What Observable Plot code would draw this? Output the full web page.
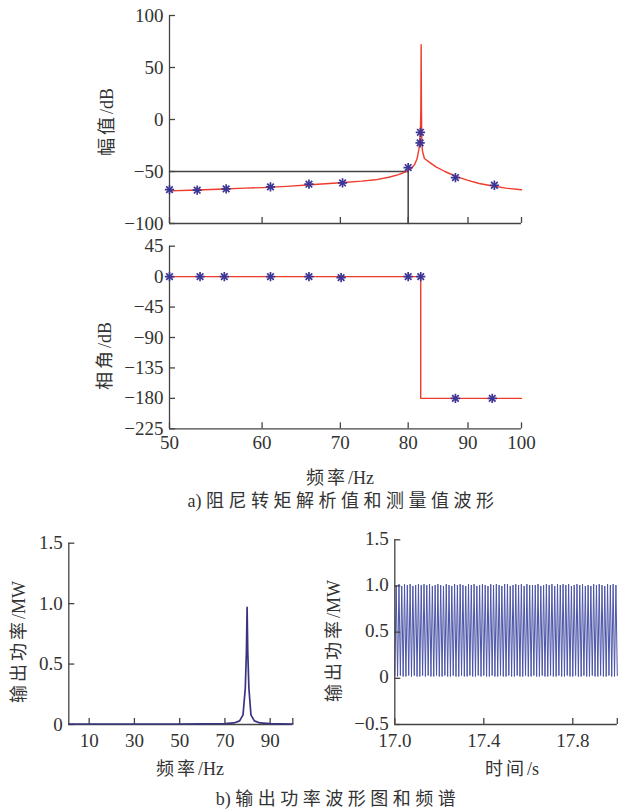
<!DOCTYPE html>
<html><head><meta charset="utf-8">
<script src="https://cdn.jsdelivr.net/npm/d3@7"></script>
<script src="https://cdn.jsdelivr.net/npm/@observablehq/plot@0.6"></script>
<style>
body{margin:0;background:#fff;}
#wrap{position:relative;width:618px;height:811px;overflow:hidden;font-family:"Liberation Serif","Times New Roman","Noto Sans CJK SC",serif;color:#333;}
.p{position:absolute;}
.lab{position:absolute;font-size:18px;white-space:nowrap;transform:translate(-50%,-50%);}
.rot{transform:translate(-50%,-50%) rotate(-90deg);}
.cjk{letter-spacing:3px;}
.cap .cjk{letter-spacing:4.5px;}
.lat{letter-spacing:0;}
</style></head><body><div id="wrap"></div>
<script>
// ---- data ----
const magTickVals = [100, 50, 0, -50, -100];
const phaseTickVals = [45, 0, -45, -90, -135, -180, -225];
const freqTickVals = [50, 60, 70, 80, 90, 100];
const specXTickVals = [10, 30, 50, 70, 90];
const specXTickMarks = [10, 30, 50, 70, 90, 100];
const specYTickVals = [0, 0.5, 1.0, 1.5];
const waveXTickVals = [17.0, 17.4, 17.8];
const waveXTickMarks = [17.0, 17.4, 17.8, 18.0];
const waveYTickVals = [-0.5, 0, 0.5, 1.0, 1.5];

// analytic damping torque magnitude (red curve)
const magCurveHz = [50, 52, 55, 58, 60, 63, 66, 70, 73, 75, 77, 78.5, 79.5, 80.5, 81.0, 81.4, 81.7, 81.85, 81.95, 82.02, 82.07, 82.12, 82.18, 82.3, 82.6, 83.5, 84.5, 86, 88, 90, 92, 94.5, 97, 100];
const magCurveDb = [-68.6, -68.0, -67.0, -66.0, -65.5, -64.3, -62.8, -60.8, -59.3, -58.0, -55.5, -53.0, -50.5, -47.0, -43.5, -38.0, -29.0, -21.0, -11.0, 10, 72, 10, -22, -31, -37.5, -41.5, -45.5, -50.0, -55.0, -58.5, -61.5, -64.0, -66.0, -67.5];
// measured magnitude (asterisks)
const magPointHz = [50, 52.8, 55.9, 61, 65.8, 70.3, 80, 81.9, 81.95, 87.8, 94.8];
const magPointDb = [-67.4, -68, -66.7, -64.8, -62.2, -61, -46.2, -22.5, -12.3, -55.8, -63.2];
// reference lines on magnitude plot
const refHz = [50, 80, 80];
const refDb = [-50, -50, -100];
// analytic phase (red step)
const phaseCurveHz = [50, 82, 82, 100];
const phaseCurveDeg = [0, 0, -180, -180];
// measured phase
const phasePointHz = [50, 53.1, 55.7, 61, 65.8, 70.1, 80, 82, 87.8, 94.4];
const phasePointDeg = [0, 0, 0, 0, 0, -1.5, 0, 0, -180, -180];
// output power spectrum
const specHz = [1, 10, 20, 30, 40, 50, 60, 65, 70, 74, 76.5, 78, 79, 79.5, 79.8, 80.1, 80.6, 81.5, 83, 85.5, 90, 95, 100];
const specMW = [0.004, 0.004, 0.004, 0.004, 0.004, 0.004, 0.005, 0.006, 0.008, 0.013, 0.03, 0.08, 0.3, 0.6, 0.97, 0.6, 0.3, 0.08, 0.03, 0.013, 0.007, 0.005, 0.004];
// output power waveform: successive extrema (half-period apart), 80 Hz oscillation
const waveStart = 17.0;
const waveHz = 80;
const waveExtrema = [
0.03,
1.01,0.02, 1.02,0.03, 1.00,0.02, 1.02,0.02, 1.01,0.03, 1.02,0.02, 1.00,0.03, 1.01,0.02, 1.02,0.02, 1.01,0.03,
1.02,0.02, 1.01,0.03, 1.02,0.02, 1.00,0.02, 1.01,0.03, 1.02,0.02, 1.01,0.02, 1.00,0.03, 1.02,0.02, 1.01,0.02,
1.00,0.03, 1.02,0.02, 1.01,0.02, 1.02,0.03, 1.01,0.02, 1.00,0.02, 1.02,0.03, 1.01,0.02, 1.02,0.02, 1.00,0.03,
1.01,0.02, 1.02,0.03, 1.01,0.02, 1.00,0.02, 1.02,0.03, 1.01,0.02, 1.02,0.02, 1.01,0.03, 1.00,0.02, 1.02,0.02,
1.02,0.03, 1.00,0.02, 1.01,0.02, 1.02,0.03, 1.01,0.02, 1.02,0.02, 1.00,0.03, 1.02,0.02, 1.01,0.02, 1.01,0.03,
1.01,0.02, 1.02,0.02, 1.00,0.03, 1.01,0.02, 1.02,0.02, 1.01,0.03, 1.02,0.02, 1.00,0.02, 1.02,0.03, 1.01,0.02,
1.02,0.02, 1.01,0.03, 1.02,0.02, 1.00,0.02, 1.01,0.03, 1.02,0.02, 1.01,0.02, 1.02,0.03, 1.00,0.02, 1.01,0.02,
1.00,0.03, 1.02,0.02, 1.01,0.02, 1.02,0.03, 1.01,0.02, 1.00,0.02, 1.02,0.03, 1.01,0.02, 1.02,0.02, 1.01,0.03
];

// ---- build ----
const AX = "#444", TXT = "#333", RED = "#ee3b2c", MK = "#3d3594", NAVY = "#3a3480", WAVE = "#4c55a8";
const wrap = document.getElementById("wrap");
const baseStyle = {fontFamily: '"Liberation Serif", "Times New Roman", serif', fontSize: "19px", color: TXT, background: "transparent", overflow: "visible"};
const fInt = d3.format("d");
const f1 = d => d === 0 ? "0" : d3.format(".1f")(d);

function place(svg, left, top) {
  const d = document.createElement("div");
  d.className = "p"; d.style.left = left + "px"; d.style.top = top + "px";
  d.appendChild(svg); wrap.appendChild(d);
}
// label with letter-spaced CJK parts and unspaced Latin parts
function label(parts, cx, cy, rotate, cls) {
  const d = document.createElement("div");
  d.className = "lab" + (rotate ? " rot" : "") + (cls ? " " + cls : "");
  for (const [txt, isCjk] of parts) {
    const s = document.createElement("span");
    s.className = isCjk ? "cjk" : "lat";
    s.textContent = txt; d.appendChild(s);
  }
  d.style.left = cx + "px"; d.style.top = cy + "px";
  wrap.appendChild(d);
}
function frameMarks(x0, y0, xMarks, yMarks, innerW, innerH) {
  return [
    Plot.ruleX([x0], {stroke: AX, strokeWidth: 1.3}),
    Plot.ruleY([y0], {stroke: AX, strokeWidth: 1.3}),
    Plot.tickX(xMarks, {x: d => d, stroke: AX, strokeWidth: 1.3, insetTop: innerH - 6}),
    Plot.tickY(yMarks, {y: d => d, stroke: AX, strokeWidth: 1.3, insetRight: innerW - 6})
  ];
}
function asterisks(data, x, y) {
  return [
    Plot.dot(data, {x, y, symbol: "plus", r: 3.1, stroke: MK, strokeWidth: 1.7}),
    Plot.dot(data, {x, y, symbol: "times", r: 3.1, stroke: MK, strokeWidth: 1.7})
  ];
}

// Panel 1: magnitude
{
  const W = 618, H = 235, mL = 169, mR = 97, mT = 15, mB = 12;
  const curve = magCurveHz.map((f, i) => ({f, v: magCurveDb[i]}));
  const pts = magPointHz.map((f, i) => ({f, v: magPointDb[i]}));
  const ref = refHz.map((f, i) => ({f, v: refDb[i]}));
  const svg = Plot.plot({
    width: W, height: H, marginLeft: mL, marginRight: mR, marginTop: mT, marginBottom: mB,
    style: baseStyle,
    x: {type: "log", domain: [50, 100], axis: null},
    y: {domain: [-100, 100]},
    marks: [
      ...frameMarks(50, -100, freqTickVals, magTickVals, W - mL - mR, H - mT - mB),
      Plot.axisY({ticks: magTickVals, tickSize: 0, tickPadding: 6, tickFormat: fInt, label: null}),
      Plot.line(ref, {x: "f", y: "v", stroke: AX, strokeWidth: 1.5}),
      Plot.line(curve, {x: "f", y: "v", stroke: RED, strokeWidth: 1.4}),
      ...asterisks(pts, "f", "v")
    ]
  });
  place(svg, 0, 0);
}
// Panel 2: phase
{
  const W = 618, H = 230, mL = 169, mR = 97, mT = 15.7, mB = 31.7;
  const curve = phaseCurveHz.map((f, i) => ({f, v: phaseCurveDeg[i]}));
  const pts = phasePointHz.map((f, i) => ({f, v: phasePointDeg[i]}));
  const svg = Plot.plot({
    width: W, height: H, marginLeft: mL, marginRight: mR, marginTop: mT, marginBottom: mB,
    style: baseStyle,
    x: {type: "log", domain: [50, 100]},
    y: {domain: [-225, 45]},
    marks: [
      ...frameMarks(50, -225, freqTickVals, phaseTickVals, W - mL - mR, H - mT - mB),
      Plot.axisY({ticks: phaseTickVals, tickSize: 0, tickPadding: 6, tickFormat: fInt, label: null}),
      Plot.axisX({ticks: freqTickVals, tickSize: 0, tickPadding: 7, tickFormat: fInt, label: null}),
      Plot.line(curve, {x: "f", y: "v", stroke: RED, strokeWidth: 1.4}),
      ...asterisks(pts, "f", "v")
    ]
  });
  place(svg, 0, 230);
}
// Panel 3: spectrum
{
  const W = 310, H = 235, mL = 68.3, mR = 17.7, mT = 17.7, mB = 36;
  const data = specHz.map((f, i) => ({f, v: specMW[i]}));
  const svg = Plot.plot({
    width: W, height: H, marginLeft: mL, marginRight: mR, marginTop: mT, marginBottom: mB,
    style: baseStyle,
    x: {domain: [1, 100]},
    y: {domain: [0, 1.5]},
    marks: [
      ...frameMarks(1, 0, specXTickMarks, specYTickVals, W - mL - mR, H - mT - mB),
      Plot.axisY({ticks: specYTickVals, tickSize: 0, tickPadding: 6, tickFormat: f1, label: null}),
      Plot.axisX({ticks: specXTickVals, tickSize: 0, tickPadding: 9, tickFormat: fInt, label: null}),
      Plot.line(data, {x: "f", y: "v", stroke: NAVY, strokeWidth: 1.7})
    ]
  });
  place(svg, 0, 525);
}
// Panel 4: waveform
{
  const W = 308, H = 235, mL = 84.3, mR = 1.2, mT = 14.3, mB = 36;
  const half = 1 / (2 * waveHz);
  const data = waveExtrema.map((v, i) => ({t: waveStart + i * half, v}));
  const svg = Plot.plot({
    width: W, height: H, marginLeft: mL, marginRight: mR, marginTop: mT, marginBottom: mB,
    style: baseStyle,
    x: {domain: [17, 18]},
    y: {domain: [-0.5, 1.5]},
    marks: [
      Plot.line(data, {x: "t", y: "v", stroke: WAVE, strokeWidth: 1}),
      ...frameMarks(17, -0.5, waveXTickMarks, waveYTickVals, W - mL - mR, H - mT - mB),
      Plot.axisY({ticks: waveYTickVals, tickSize: 0, tickPadding: 6, tickFormat: f1, label: null, dy: -1}),
      Plot.axisX({ticks: waveXTickVals, tickSize: 0, tickPadding: 9, tickFormat: d3.format(".1f"), label: null})
    ]
  });
  place(svg, 310, 525);
}

// axis labels & captions
label([["幅值", true], ["/dB", false]], 105, 122, true);
label([["相角", true], ["/dB", false]], 103, 356, true);
label([["频率", true], ["/Hz", false]], 340, 476, false);
label([["a) ", false], ["阻尼转矩解析值和测量值波形", true]], 343, 499, false, "cap");
label([["输出功率", true], ["/MW", false]], 17, 642, true);
label([["输出功率", true], ["/MW", false]], 332, 641, true);
label([["频率", true], ["/Hz", false]], 190, 767, false);
label([["时间", true], ["/s", false]], 512, 767, false);
label([["b) ", false], ["输出功率波形图和频谱", true]], 338, 797, false, "cap");
</script>
</body></html>
